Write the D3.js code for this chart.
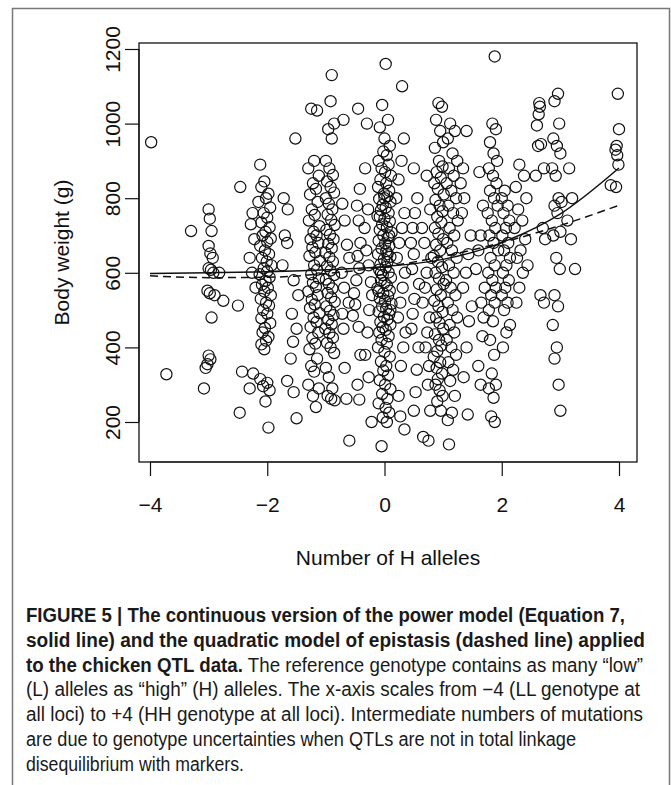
<!DOCTYPE html>
<html>
<head>
<meta charset="utf-8">
<script src="https://d3js.org/d3.v7.min.js"></script>
<style>
  body { margin: 0; background: #fff; }
  svg { display: block; }
  .axis text { font-family: "Liberation Sans", Arial, sans-serif; font-size: 21px; fill: #111; }
  .axis line, .axis path { stroke: #111; stroke-width: 1.2; }
  .point { fill: none; stroke: #111; stroke-width: 1.2; }
  .cap { font-family: "Liberation Sans Narrow", "Liberation Sans", Arial, sans-serif; font-size: 19.5px; fill: #1a1a1a; }
</style>
</head>
<body>
<div id="chart"></div>
<script>
// body weight against number of H alleles, power model vs quadratic model

const FRAME_WIDTH = 671;
const FRAME_HEIGHT = 785;
const BOX = {left: 139, right: 637, top: 43, bottom: 462};

const X_TICKS = [-4, -2, 0, 2, 4];
const Y_TICKS = [200, 400, 600, 800, 1000, 1200];

// points, grouped by column of x
const GROUP_LEFT = [[-3.98,950],[-3.72,328],[-3.3,712],[-3.08,290],[-2.75,525],[-2.82,600],[-2.46,830],[-2.47,225],[-2.43,335],[-2.5,512]];
const GROUP_NEG3 = [[-3.0,770],[-2.98,745],[-2.95,712],[-3.0,672],[-2.97,652],[-2.93,640],[-3.0,612],[-2.96,608],[-2.92,600],[-3.02,552],
  [-2.98,545],[-2.9,540],[-2.95,480],[-3.0,378],[-2.97,368],[-3.02,355],[-3.05,345]];
const GROUP_NEG2 = [[-2.12,890],[-2.05,845],[-2.1,830],[-1.98,812],[-2.02,800],[-2.15,790],[-1.95,775],[-2.06,760],[-2.0,748],[-2.1,735],
  [-1.96,722],[-2.03,710],[-2.08,700],[-1.94,692],[-2.0,683],[-2.12,672],[-2.04,660],[-1.97,650],[-2.09,640],[-2.01,630],
  [-1.93,620],[-2.06,612],[-2.0,604],[-2.13,596],[-1.96,588],[-2.03,578],[-2.09,568],[-1.99,560],[-2.05,550],[-1.94,540],
  [-2.11,530],[-2.02,520],[-1.97,512],[-2.07,500],[-2.0,490],[-2.1,478],[-1.95,465],[-2.04,452],[-2.08,440],[-1.98,428],
  [-2.02,418],[-2.1,408],[-2.05,395],[-2.12,315],[-2.0,305],[-2.07,296],[-1.96,285],[-2.03,255],[-1.98,185],[-2.25,760],
  [-2.28,730],[-2.22,690],[-2.3,640],[-2.26,600],[-2.2,560],[-2.24,330],[-2.3,290]];
const GROUP_NEG15 = [[-1.52,960],[-1.72,800],[-1.65,770],[-1.7,700],[-1.66,680],[-1.74,620],[-1.55,580],[-1.47,540],[-1.58,490],[-1.5,450],
  [-1.56,415],[-1.6,370],[-1.66,310],[-1.55,280],[-1.5,210]];
const GROUP_NEG12 = [[-1.25,1040],[-1.15,1035],[-1.2,900],[-1.3,880],[-1.12,860],[-1.22,840],[-1.17,825],[-1.27,810],[-1.14,790],[-1.24,770],
  [-1.19,755],[-1.29,740],[-1.11,725],[-1.21,710],[-1.16,700],[-1.26,690],[-1.13,680],[-1.23,668],[-1.18,655],[-1.28,645],
  [-1.1,632],[-1.2,620],[-1.15,608],[-1.25,596],[-1.12,585],[-1.22,573],[-1.17,562],[-1.3,550],[-1.14,540],[-1.24,528],
  [-1.19,515],[-1.27,505],[-1.11,492],[-1.21,480],[-1.16,468],[-1.26,455],[-1.13,440],[-1.23,425],[-1.18,410],[-1.28,395],
  [-1.15,370],[-1.25,350],[-1.2,335],[-1.3,300],[-1.12,290],[-1.22,270],[-1.17,240]];
const GROUP_NEG1 = [[-0.9,1130],[-0.92,1060],[-0.86,1000],[-0.96,985],[-0.9,960],[-1.0,900],[-0.94,880],[-0.88,862],[-0.98,845],[-0.92,830],
  [-0.86,815],[-1.0,800],[-0.95,785],[-0.89,770],[-0.97,756],[-0.91,742],[-0.85,728],[-0.99,715],[-0.93,702],[-0.87,690],
  [-0.96,678],[-0.9,666],[-1.01,654],[-0.94,642],[-0.88,630],[-0.98,618],[-0.92,606],[-0.86,594],[-1.0,582],[-0.95,570],
  [-0.89,558],[-0.97,546],[-0.91,534],[-0.85,522],[-0.99,510],[-0.93,498],[-0.87,486],[-0.96,474],[-0.9,462],[-1.01,450],
  [-0.94,438],[-0.88,426],[-0.98,412],[-0.92,400],[-0.86,385],[-1.0,345],[-0.95,320],[-0.89,290],[-0.97,270],[-0.91,262],[-0.85,258]];
const GROUP_NEG07 = [[-0.7,1010],[-0.72,785],[-0.68,740],[-0.64,675],[-0.6,640],[-0.73,600],[-0.69,560],[-0.61,520],[-0.72,490],[-0.7,450],
  [-0.68,345],[-0.65,262]];
const GROUP_NEG05 = [[-0.45,1040],[-0.42,825],[-0.47,780],[-0.44,740],[-0.41,680],[-0.46,645],[-0.43,612],[-0.48,580],[-0.52,545],[-0.5,515],
  [-0.54,485],[-0.44,455],[-0.41,380],[-0.46,300],[-0.43,260],[-0.6,150]];
const GROUP_NEG03 = [[-0.3,1000],[-0.33,880],[-0.28,770],[-0.34,720],[-0.31,660],[-0.27,620],[-0.23,575],[-0.21,540],[-0.26,500],[-0.29,440],
  [-0.33,380],[-0.27,320],[-0.22,200]];
const GROUP_ZERO = [[0.02,1160],[-0.04,1050],[0.06,1010],[-0.08,990],[0.0,960],[0.09,940],[-0.02,925],[0.04,915],[-0.1,900],[0.07,890],
  [-0.05,880],[0.01,870],[0.11,860],[-0.07,850],[0.03,840],[-0.11,830],[0.08,820],[-0.01,812],[0.05,805],[-0.09,798],
  [0.1,790],[-0.03,782],[0.02,775],[-0.06,768],[0.07,760],[-0.12,752],[0.0,745],[0.09,738],[-0.04,730],[0.04,722],
  [-0.08,715],[0.12,708],[-0.02,700],[0.06,693],[-0.1,686],[0.01,679],[0.08,672],[-0.05,665],[0.03,658],[-0.11,650],
  [0.1,643],[-0.01,636],[0.05,629],[-0.07,622],[0.02,615],[-0.09,608],[0.07,601],[-0.03,594],[0.11,587],[-0.06,580],
  [0.0,573],[0.04,566],[-0.12,559],[0.09,552],[-0.02,545],[0.06,538],[-0.08,531],[0.01,524],[0.12,517],[-0.04,510],
  [0.03,503],[-0.1,496],[0.08,489],[-0.01,482],[0.05,475],[-0.07,468],[0.1,461],[-0.03,454],[0.02,447],[-0.09,440],
  [0.07,430],[-0.05,420],[0.04,410],[-0.11,400],[0.0,388],[0.09,375],[-0.06,362],[0.03,350],[-0.02,338],[0.06,325],
  [-0.08,312],[0.01,300],[0.1,288],[-0.04,275],[0.05,262],[-0.1,250],[0.02,238],[0.08,225],[-0.03,212],[0.04,200],
  [-0.05,135],[-0.06,600],[0.08,700],[0.0,800],[0.1,500],[-0.1,550],[0.05,650],[-0.08,750]];
const GROUP_POS03 = [[0.3,1100],[0.33,960],[0.29,900],[0.24,850],[0.2,800],[0.34,760],[0.3,720],[0.25,680],[0.21,640],[0.35,600],
  [0.31,560],[0.27,520],[0.23,480],[0.36,440],[0.32,400],[0.28,350],[0.24,270],[0.27,215],[0.34,180]];
const GROUP_POS05 = [[0.5,880],[0.56,800],[0.52,760],[0.48,720],[0.45,680],[0.5,650],[0.47,610],[0.59,570],[0.51,530],[0.48,490],
  [0.46,450],[0.58,400],[0.55,340],[0.53,280],[0.5,230]];
const GROUP_POS07 = [[0.72,860],[0.78,770],[0.64,720],[0.68,680],[0.8,640],[0.72,600],[0.69,560],[0.65,520],[0.77,480],[0.73,440],
  [0.7,400],[0.76,350],[0.74,300],[0.78,230],[0.66,160],[0.75,150]];
const GROUP_POS1 = [[0.92,1055],[0.98,1045],[0.88,1010],[0.95,980],[1.0,950],[0.86,935],[0.93,900],[0.99,885],[0.89,870],[0.96,855],
  [0.85,840],[0.91,825],[1.01,810],[0.87,795],[0.94,780],[0.99,765],[0.9,750],[0.97,735],[0.86,720],[0.92,705],
  [1.0,690],[0.88,675],[0.95,660],[0.84,645],[0.91,630],[0.98,615],[0.87,600],[0.93,585],[1.01,570],[0.89,555],
  [0.96,540],[0.85,525],[0.92,510],[0.99,495],[0.88,480],[0.94,465],[1.0,450],[0.86,435],[0.93,420],[0.97,405],
  [0.9,390],[0.84,375],[0.95,360],[0.89,345],[0.98,330],[0.91,315],[0.87,300],[0.94,285],[0.99,270],[0.9,255],[0.96,230]];
const GROUP_POS11 = [[1.12,1000],[1.2,980],[1.08,960],[1.16,920],[1.24,900],[1.1,880],[1.18,860],[1.06,840],[1.14,820],[1.22,800],
  [1.09,780],[1.17,760],[1.25,740],[1.11,720],[1.19,700],[1.07,680],[1.15,660],[1.23,640],[1.1,620],[1.18,600],
  [1.05,580],[1.13,560],[1.21,540],[1.08,520],[1.16,500],[1.24,480],[1.11,460],[1.19,440],[1.06,420],[1.14,400],
  [1.22,380],[1.09,360],[1.17,340],[1.12,310],[1.2,270],[1.15,225],[1.08,205],[1.1,140]];
const GROUP_POS14 = [[1.4,980],[1.34,880],[1.3,840],[1.36,800],[1.32,760],[1.47,700],[1.43,650],[1.39,600],[1.34,560],[1.49,510],
  [1.44,470],[1.4,400],[1.35,320],[1.42,220]];
const GROUP_POS16 = [[1.62,870],[1.68,780],[1.64,700],[1.6,660],[1.56,610],[1.71,560],[1.65,520],[1.69,480],[1.67,430],[1.6,350],[1.64,300]];
const GROUP_POS19 = [[1.88,1180],[1.84,1000],[1.9,985],[1.8,950],[1.86,920],[1.92,900],[1.78,880],[1.85,860],[1.91,840],[1.8,820],
  [1.87,800],[1.93,780],[1.76,760],[1.83,740],[1.89,720],[1.79,700],[1.86,680],[1.94,660],[1.81,640],[1.88,620],
  [1.77,600],[1.84,580],[1.9,560],[1.82,540],[1.88,520],[1.78,500],[1.85,470],[1.8,420],[1.87,380],[1.83,330],
  [1.9,300],[1.78,290],[1.86,265],[1.82,215],[1.88,200]];
const GROUP_POS2 = [[2.05,820],[2.0,800],[2.1,780],[2.03,760],[2.13,740],[2.07,720],[2.01,700],[2.11,680],[2.04,660],[2.14,640],
  [2.08,620],[2.02,600],[2.12,580],[2.06,560],[2.0,540],[2.1,520],[2.04,500],[2.14,460],[2.08,440],[2.02,400]];
const GROUP_POS23 = [[2.3,890],[2.38,860],[2.24,830],[2.42,800],[2.28,770],[2.35,740],[2.22,720],[2.4,690],[2.32,660],[2.26,640],
  [2.44,620],[2.36,600],[2.3,560],[2.25,520]];
const GROUP_POS27 = [[2.64,1055],[2.65,1045],[2.63,1025],[2.6,995],[2.67,945],[2.62,940],[2.72,880],[2.58,860],[2.7,720],[2.74,690],
  [2.66,540],[2.72,520]];
const GROUP_POS3 = [[2.96,1080],[2.9,1060],[2.98,1000],[2.88,960],[2.94,940],[3.0,920],[2.86,880],[2.92,860],[2.97,800],[3.02,790],
  [2.9,780],[2.95,760],[3.0,710],[2.88,700],[2.93,640],[2.99,610],[2.9,540],[2.96,510],[2.87,460],[2.94,400],
  [2.9,370],[2.97,300],[3.0,230],[3.15,880],[3.2,800],[3.12,740],[3.18,690],[3.25,610]];
const GROUP_RIGHT = [[3.98,1080],[4.0,985],[3.96,940],[3.94,930],[3.97,915],[3.99,890],[3.86,835],[3.95,830]];

// fitted curves
const CURVE_X = [-4, -3, -2, -1, 0, 1, 2, 3, 4];
const POWER_Y = [598, 600, 603, 608, 617, 636, 681, 758, 881];
const QUAD_Y = [592, 587, 588, 598, 616, 644, 681, 727, 781];

const CAPTION = [
  [{t: "FIGURE 5 | The continuous version of the power model (Equation 7,", b: true}],
  [{t: "solid line) and the quadratic model of epistasis (dashed line) applied", b: true}],
  [{t: "to the chicken QTL data.", b: true}, {t: " The reference genotype contains as many \u201clow\u201d", b: false}],
  [{t: "(L) alleles as \u201chigh\u201d (H) alleles. The x-axis scales from \u22124 (LL genotype at", b: false}],
  [{t: "all loci) to +4 (HH genotype at all loci). Intermediate numbers of mutations", b: false}],
  [{t: "are due to genotype uncertainties when QTLs are not in total linkage", b: false}],
  [{t: "disequilibrium with markers.", b: false}]
];
const CAPTION_WIDTHS = [599, 619, 617, 614, 617, 550, 218];

const ALL_POINTS = [].concat(GROUP_LEFT, GROUP_NEG3, GROUP_NEG2, GROUP_NEG15, GROUP_NEG12, GROUP_NEG1,
  GROUP_NEG07, GROUP_NEG05, GROUP_NEG03, GROUP_ZERO, GROUP_POS03, GROUP_POS05, GROUP_POS07, GROUP_POS1,
  GROUP_POS11, GROUP_POS14, GROUP_POS16, GROUP_POS19, GROUP_POS2, GROUP_POS23, GROUP_POS27, GROUP_POS3, GROUP_RIGHT);

const FRAME = d3.select("#chart")
  .append("svg")
    .attr("width", FRAME_WIDTH)
    .attr("height", FRAME_HEIGHT);

// grey panel border (open at the bottom)
FRAME.append("path")
  .attr("d", "M12.5," + FRAME_HEIGHT + " L12.5,8.5 L669.5,8.5 L669.5," + FRAME_HEIGHT)
  .attr("fill", "none")
  .attr("stroke", "#777")
  .attr("stroke-width", 1.5);

const X_SCALE = d3.scaleLinear().domain([-4, 4]).range([150, 619]);
const Y_SCALE = d3.scaleLinear().domain([200, 1200]).range([422, 49]);

FRAME.append("rect")
  .attr("x", BOX.left)
  .attr("y", BOX.top)
  .attr("width", BOX.right - BOX.left)
  .attr("height", BOX.bottom - BOX.top)
  .attr("fill", "none")
  .attr("stroke", "#111")
  .attr("stroke-width", 1.3);

// x axis
const xAxis = FRAME.append("g")
  .attr("class", "axis")
  .attr("transform", "translate(0," + BOX.bottom + ")")
  .call(d3.axisBottom(X_SCALE).tickValues(X_TICKS).tickSize(14).tickFormat(d3.format("d")));
xAxis.select(".domain").attr("d", "M" + X_SCALE(-4) + ",0H" + X_SCALE(4));
xAxis.selectAll("text").attr("y", 50).attr("dy", null);

// y axis, labels rotated like R
const yAxis = FRAME.append("g")
  .attr("class", "axis")
  .attr("transform", "translate(" + BOX.left + ",0)")
  .call(d3.axisLeft(Y_SCALE).tickValues(Y_TICKS).tickSize(14).tickFormat(d3.format("d")));
yAxis.select(".domain").attr("d", "M0," + Y_SCALE(200) + "V" + Y_SCALE(1200));
yAxis.selectAll("text")
  .attr("x", null)
  .attr("dy", null)
  .attr("text-anchor", "middle")
  .attr("transform", "translate(-19,0) rotate(-90)");

FRAME.append("text")
  .attr("x", (BOX.left + BOX.right) / 2)
  .attr("y", 565)
  .attr("text-anchor", "middle")
  .style("font-family", "'Liberation Sans', Arial, sans-serif")
  .style("font-size", "21px")
  .style("fill", "#111")
  .text("Number of H alleles");

FRAME.append("text")
  .attr("transform", "translate(69," + (BOX.top + BOX.bottom) / 2 + ") rotate(-90)")
  .attr("text-anchor", "middle")
  .style("font-family", "'Liberation Sans', Arial, sans-serif")
  .style("font-size", "21px")
  .style("fill", "#111")
  .text("Body weight (g)");

// points
FRAME.selectAll(".point")
  .data(ALL_POINTS)
  .enter()
  .append("circle")
    .attr("class", "point")
    .attr("cx", (d) => X_SCALE(d[0]))
    .attr("cy", (d) => Y_SCALE(d[1]))
    .attr("r", 5.6);

// model curves
const line = d3.line()
  .x((d) => X_SCALE(d[0]))
  .y((d) => Y_SCALE(d[1]))
  .curve(d3.curveMonotoneX);

FRAME.append("path")
  .datum(CURVE_X.map((x, i) => [x, POWER_Y[i]]))
  .attr("d", line)
  .attr("fill", "none")
  .attr("stroke", "#111")
  .attr("stroke-width", 1.5);

FRAME.append("path")
  .datum(CURVE_X.map((x, i) => [x, QUAD_Y[i]]))
  .attr("d", line)
  .attr("fill", "none")
  .attr("stroke", "#111")
  .attr("stroke-width", 1.5)
  .attr("stroke-dasharray", "8,5");

// caption
CAPTION.forEach((parts, i) => {
  const t = FRAME.append("text")
    .attr("class", "cap")
    .attr("x", 26)
    .attr("y", 622 + i * 24.8)
    .attr("textLength", CAPTION_WIDTHS[i])
    .attr("lengthAdjust", "spacingAndGlyphs");
  parts.forEach((p) => {
    t.append("tspan")
      .attr("font-weight", p.b ? "bold" : "normal")
      .text(p.t);
  });
});
</script>
</body>
</html>
